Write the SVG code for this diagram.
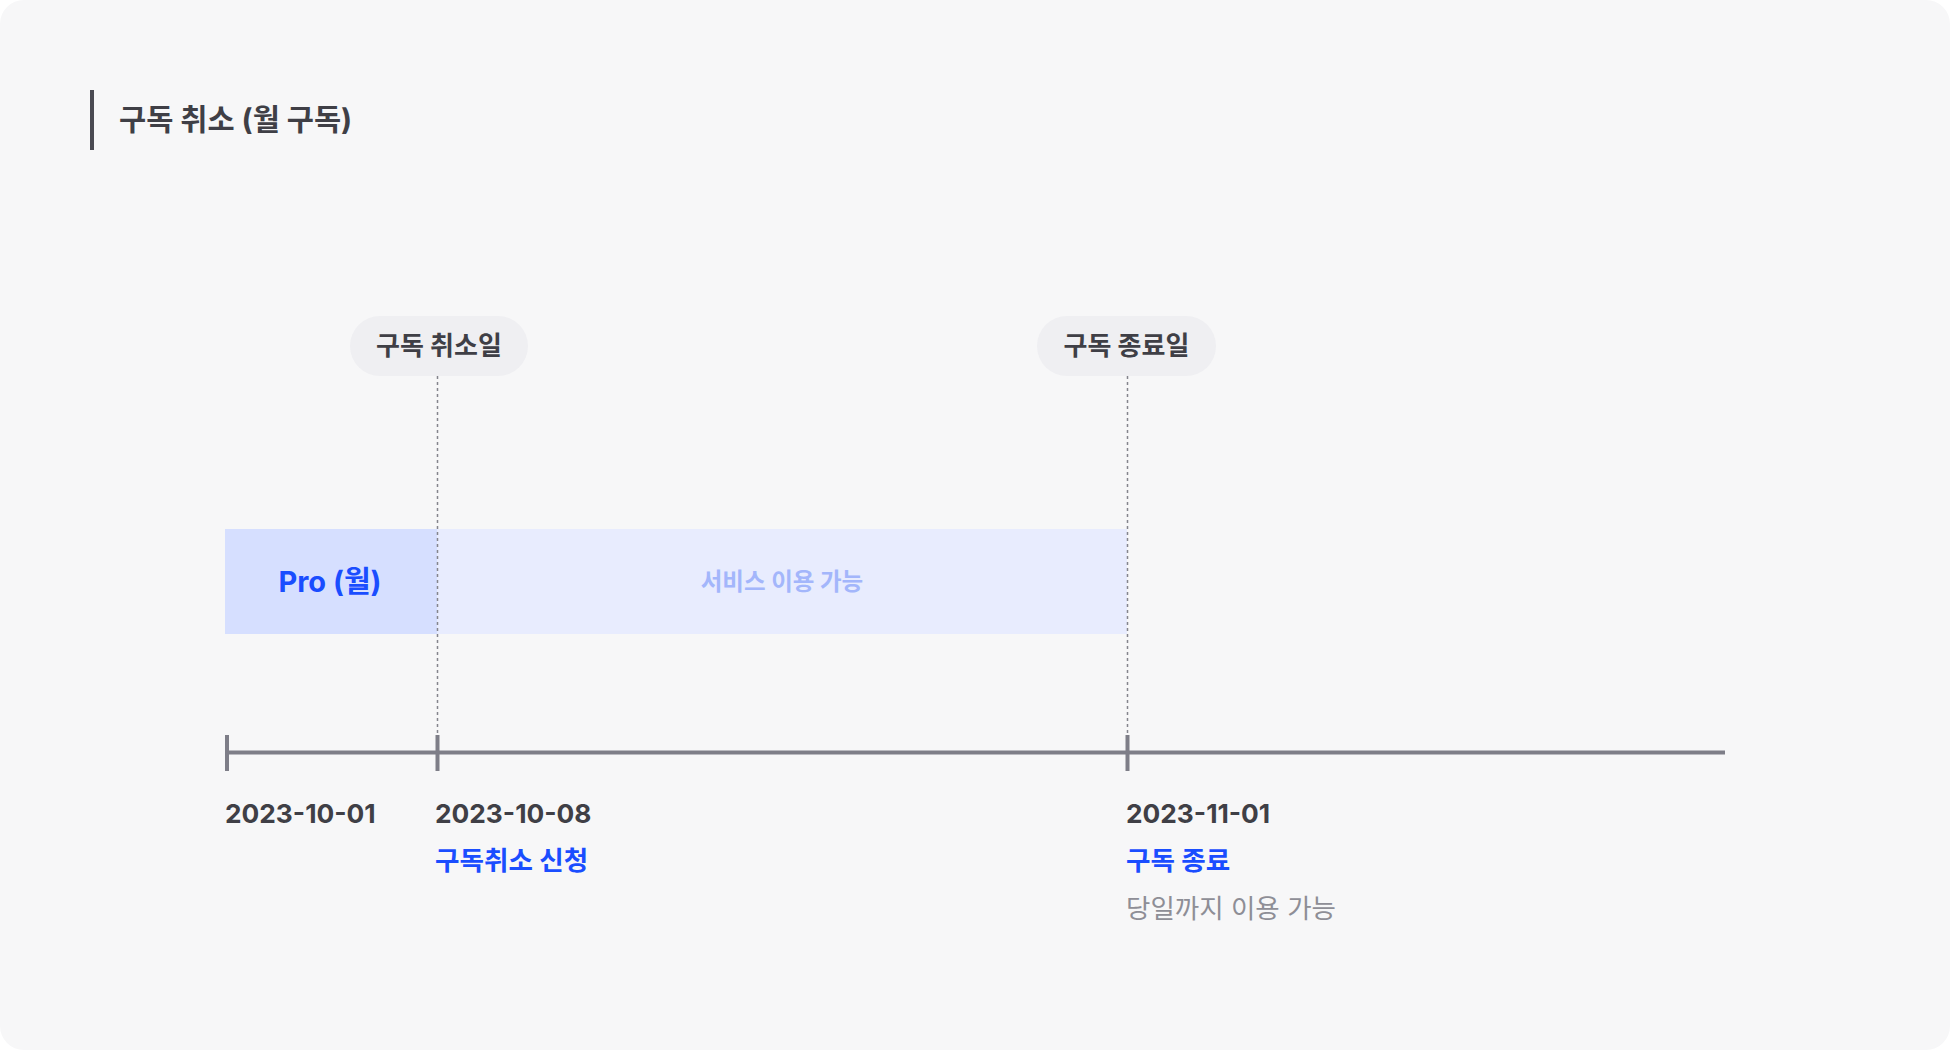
<svg xmlns="http://www.w3.org/2000/svg" width="1950" height="1050" viewBox="0 0 1950 1050">
<style>
text { font-family: Inter, "Noto Sans CJK KR", sans-serif; }
.title { font-size: 29.5px; font-weight: 700; fill: #3f3f46; }
.pill { fill: #efeff2; }
.pilltxt { font-size: 26px; font-weight: 700; fill: #3f3f46; text-anchor: middle; }
.date { font-size: 26.3px; font-weight: 700; fill: #3f3f46; }
.blue { font-size: 26.6px; font-weight: 700; fill: #1a4dff; }
.gray { font-size: 26.5px; font-weight: 400; fill: #8e8e96; }
.dash { stroke: #85858d; stroke-width: 1.5; stroke-dasharray: 3 3; fill: none; }
.axis { stroke: #7e7e88; stroke-width: 4; fill: none; }
</style>
<rect x="0" y="0" width="1950" height="1050" fill="#ffffff"/>
<rect x="0" y="0" width="1950" height="1050" rx="24" fill="#f7f7f8"/>
<g id="title">
<rect x="90" y="90" width="4" height="60" fill="#4a4a52"/>
<text class="title" x="119" y="130">구독 취소 (월 구독)</text>
</g>
<g id="bar-pro">
<rect x="225" y="529" width="212" height="105" fill="#d6dfff"/>
<text x="330" y="592" font-size="29" font-weight="700" fill="#1a4dff" text-anchor="middle">Pro (월)</text>
</g>
<g id="bar-service">
<rect x="437" y="529" width="690" height="105" fill="#e8ecfe"/>
<text x="782" y="590" font-size="23.5" font-weight="700" fill="#a3b6fb" text-anchor="middle">서비스 이용 가능</text>
</g>
<g id="connectors">
<line class="dash" x1="437.5" y1="376" x2="437.5" y2="735"/>
<line class="dash" x1="1127.5" y1="376" x2="1127.5" y2="735"/>
<line class="axis" x1="227" y1="752.5" x2="1725" y2="752.5"/>
<line class="axis" x1="227" y1="735" x2="227" y2="771"/>
<line class="axis" x1="437.5" y1="735" x2="437.5" y2="771"/>
<line class="axis" x1="1127.5" y1="735" x2="1127.5" y2="771"/>
</g>
<g id="pill-cancel">
<rect class="pill" x="350" y="316" width="178" height="60" rx="30"/>
<text class="pilltxt" x="439" y="355">구독 취소일</text>
</g>
<g id="pill-end">
<rect class="pill" x="1037" y="316" width="179" height="60" rx="30"/>
<text class="pilltxt" x="1126.5" y="355">구독 종료일</text>
</g>
<g id="label-start">
<text class="date" x="225" y="823">2023-10-01</text>
</g>
<g id="label-cancel">
<text class="date" x="435" y="823">2023-10-08</text>
<text class="blue" x="435" y="870">구독취소 신청</text>
</g>
<g id="label-end">
<text class="date" x="1126" y="823">2023-11-01</text>
<text class="blue" x="1126" y="870">구독 종료</text>
<text class="gray" x="1126" y="918">당일까지 이용 가능</text>
</g>
</svg>
